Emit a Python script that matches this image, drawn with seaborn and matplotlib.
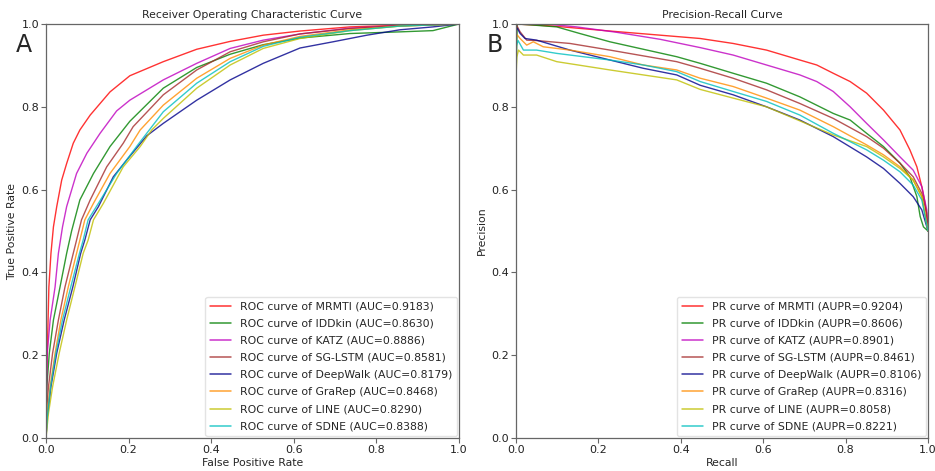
import numpy as np
import pandas as pd
import matplotlib
matplotlib.use("Agg")
import matplotlib.pyplot as plt
import seaborn as sns

# ---------------- data ----------------
methods = ["MRMTI", "IDDkin", "KATZ", "SG-LSTM", "DeepWalk", "GraRep", "LINE", "SDNE"]
auc_values = ["0.9183", "0.8630", "0.8886", "0.8581", "0.8179", "0.8468", "0.8290", "0.8388"]
aupr_values = ["0.9204", "0.8606", "0.8901", "0.8461", "0.8106", "0.8316", "0.8058", "0.8221"]
colors = ["red", "green", "m", "brown", "darkblue", "darkorange", "y", "c"]

# ROC curves
roc_mrmti_fpr = [0, 0.001, 0.003, 0.007, 0.012, 0.018, 0.026, 0.038, 0.050, 0.066, 0.082, 0.107, 0.155, 0.203, 0.284, 0.365, 0.446, 0.526, 0.615, 0.736, 0.857, 1.0]
roc_mrmti_tpr = [0, 0.10, 0.205, 0.365, 0.446, 0.51, 0.559, 0.623, 0.663, 0.712, 0.744, 0.780, 0.836, 0.875, 0.909, 0.939, 0.958, 0.973, 0.983, 0.993, 0.997, 1.0]

roc_iddkin_fpr = [0, 0.002, 0.008, 0.018, 0.034, 0.050, 0.062, 0.082, 0.115, 0.155, 0.203, 0.284, 0.365, 0.446, 0.526, 0.615, 0.736, 0.857, 0.937, 1.0]
roc_iddkin_tpr = [0, 0.124, 0.205, 0.285, 0.365, 0.446, 0.50, 0.575, 0.639, 0.704, 0.765, 0.845, 0.895, 0.927, 0.950, 0.966, 0.977, 0.981, 0.984, 1.0]

roc_katz_fpr = [0, 0.001, 0.003, 0.010, 0.022, 0.030, 0.040, 0.050, 0.074, 0.099, 0.131, 0.171, 0.203, 0.284, 0.365, 0.446, 0.526, 0.615, 0.736, 0.857, 1.0]
roc_katz_tpr = [0, 0.10, 0.205, 0.285, 0.365, 0.446, 0.51, 0.559, 0.639, 0.688, 0.736, 0.790, 0.816, 0.865, 0.905, 0.941, 0.961, 0.976, 0.990, 0.996, 1.0]

roc_sglstm_fpr = [0, 0.002, 0.006, 0.016, 0.030, 0.046, 0.066, 0.074, 0.086, 0.107, 0.147, 0.187, 0.211, 0.284, 0.365, 0.446, 0.526, 0.615, 0.736, 0.857, 1.0]
roc_sglstm_tpr = [0, 0.075, 0.124, 0.205, 0.285, 0.365, 0.446, 0.478, 0.527, 0.575, 0.655, 0.712, 0.752, 0.829, 0.889, 0.933, 0.957, 0.976, 0.989, 0.996, 1.0]

roc_deepwalk_fpr = [0, 0.003, 0.012, 0.026, 0.044, 0.065, 0.084, 0.094, 0.107, 0.127, 0.163, 0.195, 0.244, 0.284, 0.365, 0.446, 0.526, 0.615, 0.695, 0.777, 0.857, 0.937, 1.0]
roc_deepwalk_tpr = [0, 0.05, 0.124, 0.205, 0.285, 0.365, 0.446, 0.478, 0.527, 0.559, 0.631, 0.671, 0.730, 0.760, 0.816, 0.865, 0.905, 0.942, 0.957, 0.973, 0.986, 0.993, 1.0]

roc_grarep_fpr = [0, 0.003, 0.010, 0.022, 0.036, 0.054, 0.074, 0.082, 0.094, 0.115, 0.155, 0.203, 0.228, 0.284, 0.365, 0.446, 0.526, 0.615, 0.736, 0.857, 1.0]
roc_grarep_tpr = [0, 0.06, 0.124, 0.205, 0.285, 0.365, 0.446, 0.478, 0.527, 0.567, 0.639, 0.704, 0.744, 0.804, 0.869, 0.917, 0.949, 0.970, 0.986, 0.995, 1.0]

roc_line_fpr = [0, 0.006, 0.016, 0.032, 0.050, 0.070, 0.090, 0.102, 0.115, 0.139, 0.187, 0.228, 0.256, 0.284, 0.365, 0.446, 0.526, 0.615, 0.736, 0.857, 1.0]
roc_line_tpr = [0, 0.06, 0.124, 0.205, 0.285, 0.365, 0.446, 0.478, 0.527, 0.567, 0.655, 0.704, 0.744, 0.772, 0.845, 0.901, 0.941, 0.965, 0.984, 0.995, 1.0]

roc_sdne_fpr = [0, 0.003, 0.011, 0.024, 0.040, 0.060, 0.081, 0.090, 0.102, 0.127, 0.171, 0.220, 0.284, 0.365, 0.446, 0.526, 0.615, 0.736, 0.857, 1.0]
roc_sdne_tpr = [0, 0.05, 0.124, 0.205, 0.285, 0.365, 0.446, 0.478, 0.527, 0.567, 0.639, 0.705, 0.788, 0.857, 0.909, 0.946, 0.968, 0.984, 0.995, 1.0]

# PR curves
pr_mrmti_rec = [0, 0.09, 0.228, 0.35, 0.447, 0.527, 0.608, 0.689, 0.730, 0.770, 0.811, 0.851, 0.892, 0.932, 0.956, 0.973, 0.985, 0.993, 1.0]
pr_mrmti_prec = [1.0, 0.995, 0.983, 0.973, 0.965, 0.953, 0.937, 0.913, 0.901, 0.881, 0.861, 0.833, 0.792, 0.744, 0.696, 0.655, 0.607, 0.567, 0.5]

pr_iddkin_rec = [0, 0.003, 0.034, 0.099, 0.155, 0.228, 0.309, 0.39, 0.447, 0.527, 0.608, 0.689, 0.770, 0.811, 0.851, 0.892, 0.932, 0.956, 0.973, 0.981, 0.989, 1.0]
pr_iddkin_prec = [0.87, 1.0, 0.998, 0.993, 0.977, 0.957, 0.939, 0.921, 0.905, 0.881, 0.857, 0.824, 0.784, 0.768, 0.736, 0.704, 0.664, 0.631, 0.583, 0.535, 0.510, 0.5]

pr_katz_rec = [0, 0.074, 0.147, 0.244, 0.350, 0.447, 0.527, 0.608, 0.689, 0.730, 0.770, 0.811, 0.851, 0.892, 0.932, 0.964, 0.985, 0.997, 1.0]
pr_katz_prec = [1.0, 1.0, 0.993, 0.980, 0.963, 0.943, 0.925, 0.901, 0.877, 0.861, 0.837, 0.800, 0.760, 0.720, 0.679, 0.647, 0.607, 0.551, 0.5]

pr_sglstm_rec = [0, 0.01, 0.026, 0.05, 0.131, 0.228, 0.309, 0.39, 0.447, 0.527, 0.608, 0.689, 0.770, 0.851, 0.892, 0.932, 0.964, 0.985, 0.997, 1.0]
pr_sglstm_prec = [1.0, 0.981, 0.961, 0.960, 0.953, 0.937, 0.923, 0.909, 0.893, 0.869, 0.841, 0.808, 0.772, 0.728, 0.700, 0.664, 0.631, 0.591, 0.543, 0.5]

pr_deepwalk_rec = [0, 0.003, 0.01, 0.022, 0.05, 0.131, 0.228, 0.309, 0.39, 0.447, 0.527, 0.608, 0.689, 0.770, 0.851, 0.892, 0.932, 0.964, 0.985, 1.0]
pr_deepwalk_prec = [0.986, 0.99, 0.977, 0.965, 0.961, 0.937, 0.913, 0.893, 0.877, 0.852, 0.829, 0.800, 0.768, 0.728, 0.679, 0.651, 0.615, 0.583, 0.551, 0.5]

pr_grarep_rec = [0, 0.01, 0.026, 0.042, 0.066, 0.131, 0.228, 0.309, 0.39, 0.447, 0.527, 0.608, 0.689, 0.770, 0.851, 0.892, 0.932, 0.964, 0.985, 1.0]
pr_grarep_prec = [0.977, 0.965, 0.949, 0.957, 0.945, 0.937, 0.921, 0.901, 0.889, 0.869, 0.849, 0.821, 0.792, 0.752, 0.708, 0.684, 0.655, 0.623, 0.583, 0.5]

pr_line_rec = [0, 0.002, 0.006, 0.018, 0.05, 0.099, 0.228, 0.309, 0.39, 0.447, 0.527, 0.608, 0.689, 0.770, 0.851, 0.892, 0.932, 0.964, 0.985, 1.0]
pr_line_prec = [0.87, 0.92, 0.937, 0.925, 0.925, 0.909, 0.889, 0.877, 0.865, 0.842, 0.821, 0.800, 0.766, 0.732, 0.704, 0.679, 0.651, 0.623, 0.583, 0.5]

pr_sdne_rec = [0, 0.005, 0.018, 0.05, 0.099, 0.228, 0.309, 0.39, 0.447, 0.527, 0.608, 0.689, 0.770, 0.851, 0.892, 0.932, 0.964, 0.985, 1.0]
pr_sdne_prec = [0.945, 0.96, 0.937, 0.937, 0.929, 0.913, 0.901, 0.885, 0.861, 0.837, 0.813, 0.780, 0.736, 0.696, 0.671, 0.643, 0.611, 0.575, 0.5]

roc_x = [roc_mrmti_fpr, roc_iddkin_fpr, roc_katz_fpr, roc_sglstm_fpr, roc_deepwalk_fpr, roc_grarep_fpr, roc_line_fpr, roc_sdne_fpr]
roc_y = [roc_mrmti_tpr, roc_iddkin_tpr, roc_katz_tpr, roc_sglstm_tpr, roc_deepwalk_tpr, roc_grarep_tpr, roc_line_tpr, roc_sdne_tpr]
pr_x = [pr_mrmti_rec, pr_iddkin_rec, pr_katz_rec, pr_sglstm_rec, pr_deepwalk_rec, pr_grarep_rec, pr_line_rec, pr_sdne_rec]
pr_y = [pr_mrmti_prec, pr_iddkin_prec, pr_katz_prec, pr_sglstm_prec, pr_deepwalk_prec, pr_grarep_prec, pr_line_prec, pr_sdne_prec]

# ---------------- build long tables ----------------
def long_table(xs, ys, labels):
    rows = []
    for lab, xv, yv in zip(labels, xs, ys):
        for i, (a, b) in enumerate(zip(xv, yv)):
            rows.append({"x": a, "y": b, "label": lab, "order": i})
    return pd.DataFrame(rows)

roc_labels = [f"ROC curve of {m} (AUC={v})" for m, v in zip(methods, auc_values)]
pr_labels = [f"PR curve of {m} (AUPR={v})" for m, v in zip(methods, aupr_values)]
roc_df = long_table(roc_x, roc_y, roc_labels)
pr_df = long_table(pr_x, pr_y, pr_labels)

# ---------------- plot ----------------
sns.set_style("ticks")
plt.rcParams["font.family"] = ["DejaVu Sans"]
fs = 7.8
spine_col = "#666666"

fig = plt.figure(figsize=(9.35, 4.71), dpi=100)
ax1 = fig.add_axes([46/935, 1-438/471, 413/935, 414/471])
ax2 = fig.add_axes([516/935, 1-438/471, 412/935, 414/471])

for ax, df, labels, title, xl, yl in [
    (ax1, roc_df, roc_labels, "Receiver Operating Characteristic Curve", "False Positive Rate", "True Positive Rate"),
    (ax2, pr_df, pr_labels, "Precision-Recall Curve", "Recall", "Precision"),
]:
    sns.lineplot(data=df, x="x", y="y", hue="label", hue_order=labels,
                 palette=dict(zip(labels, colors)), sort=False, estimator=None,
                 units="label", linewidth=1.0, alpha=0.8, ax=ax)
    ax.set_xlim(0, 1)
    ax.set_ylim(0, 1)
    ax.set_xticks([0, 0.2, 0.4, 0.6, 0.8, 1.0])
    ax.set_yticks([0, 0.2, 0.4, 0.6, 0.8, 1.0])
    ax.tick_params(labelsize=8, length=3.5, width=0.8, color=spine_col, pad=1.5,
                   labelcolor="#222222")
    for s in ax.spines.values():
        s.set_color(spine_col)
        s.set_linewidth(0.9)
    ax.set_title(title, fontsize=fs, pad=4)
    ax.set_xlabel(xl, fontsize=fs, labelpad=2)
    ax.set_ylabel(yl, fontsize=fs, labelpad=3)
    leg = ax.legend(loc="lower right", fontsize=fs, frameon=True, title=None,
                    borderaxespad=0.2, labelspacing=0.66, handletextpad=0.8)
    leg.get_frame().set_edgecolor("#dddddd")
    for h in leg.get_lines():
        h.set_linewidth(1.1)

fig.text(16/935, 1-52/471, "A", fontsize=17)
fig.text(487/935, 1-52/471, "B", fontsize=17)

fig.savefig("out.png", dpi=100)
